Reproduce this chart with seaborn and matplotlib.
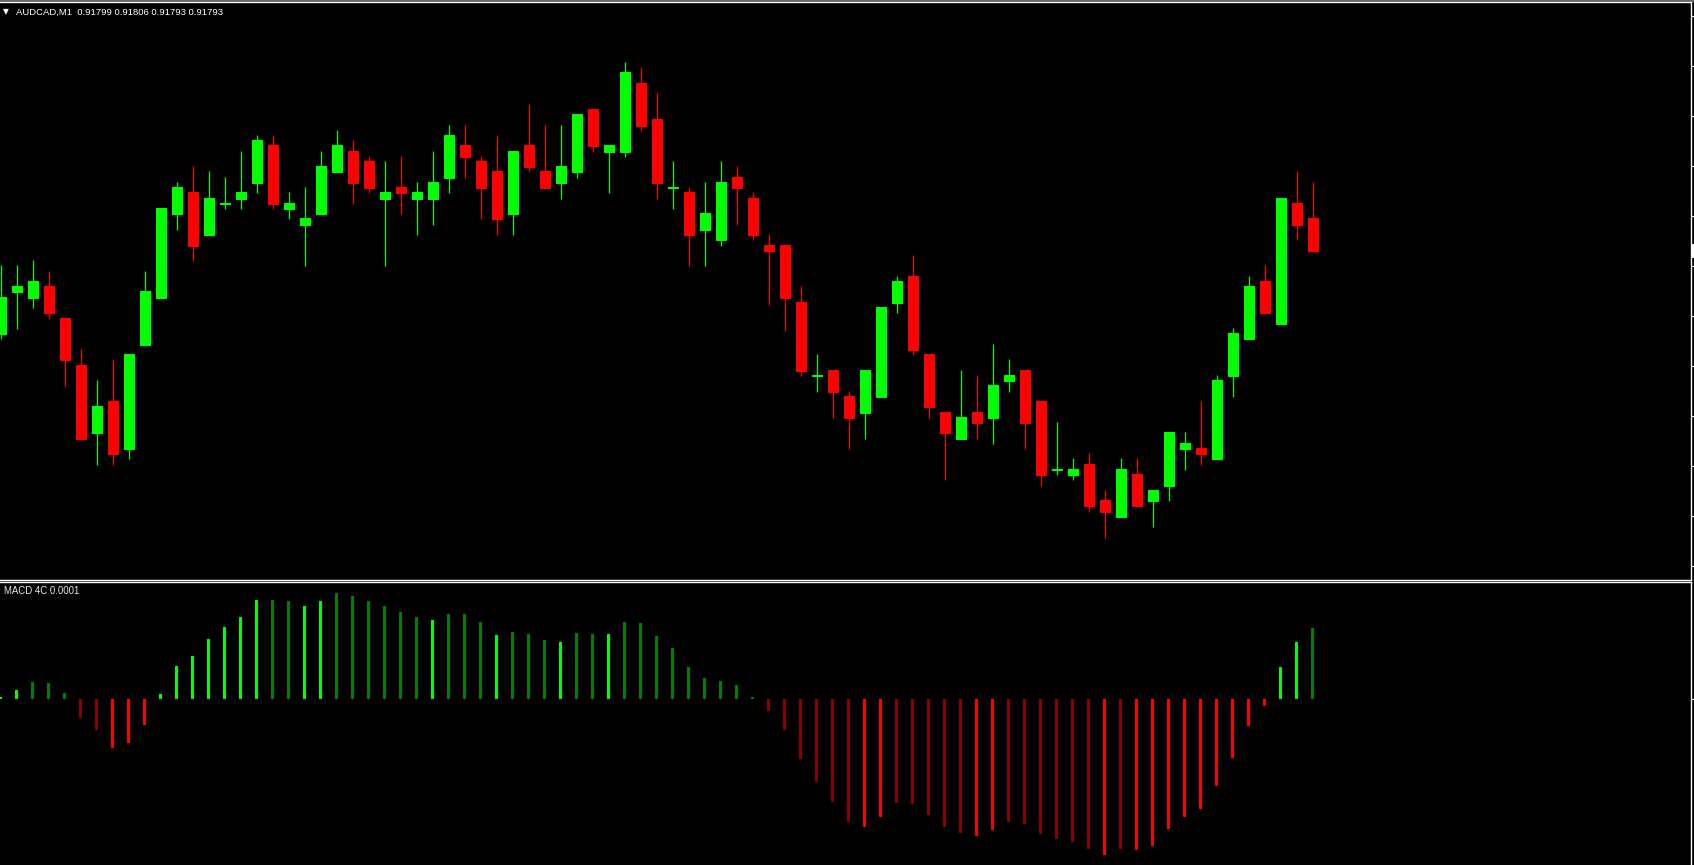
import matplotlib.pyplot as plt
from matplotlib.lines import Line2D
from matplotlib.patches import Rectangle
from matplotlib.ticker import MultipleLocator
import matplotlib.transforms as mtrans
import pandas as pd
import seaborn as sns

# AUDCAD M1 candles
opens = [0.917764, 0.917848, 0.917836, 0.917860, 0.917796, 0.917702, 0.917566, 0.917630, 0.917534, 0.917742,
         0.917836, 0.918004, 0.918048, 0.917962, 0.918025, 0.918034, 0.918066, 0.918142, 0.918014, 0.917982,
         0.918004, 0.918088, 0.918130, 0.918110, 0.918034, 0.918058, 0.918034, 0.918034, 0.918076, 0.918142,
         0.918110, 0.918090, 0.918004, 0.918142, 0.918090, 0.918066, 0.918088, 0.918214, 0.918128, 0.918128,
         0.918266, 0.918194, 0.918057, 0.918048, 0.917972, 0.917952, 0.918078, 0.918036, 0.917942, 0.917942,
         0.917828, 0.917681, 0.917692, 0.917640, 0.917606, 0.917638, 0.917826, 0.917880, 0.917724, 0.917608,
         0.917554, 0.917608, 0.917596, 0.917670, 0.917692, 0.917630, 0.917493, 0.917482, 0.917504, 0.917432,
         0.917398, 0.917484, 0.917430, 0.917460, 0.917534, 0.917536, 0.917514, 0.917680, 0.917754, 0.917870,
         0.917784, 0.918026, 0.917996]
highs = [0.917902, 0.917902, 0.917912, 0.917890, 0.917796, 0.917734, 0.917672, 0.917714, 0.917724, 0.917890,
         0.918016, 0.918068, 0.918100, 0.918090, 0.918078, 0.918130, 0.918162, 0.918162, 0.918048, 0.918058,
         0.918130, 0.918172, 0.918152, 0.918120, 0.918110, 0.918120, 0.918068, 0.918130, 0.918182, 0.918182,
         0.918120, 0.918162, 0.918130, 0.918224, 0.918182, 0.918182, 0.918204, 0.918214, 0.918142, 0.918308,
         0.918298, 0.918246, 0.918110, 0.918058, 0.918068, 0.918110, 0.918100, 0.918048, 0.917964, 0.917942,
         0.917860, 0.917724, 0.917692, 0.917650, 0.917692, 0.917818, 0.917880, 0.917922, 0.917724, 0.917608,
         0.917692, 0.917682, 0.917744, 0.917714, 0.917692, 0.917630, 0.917588, 0.917516, 0.917526, 0.917452,
         0.917516, 0.917516, 0.917452, 0.917568, 0.917568, 0.917630, 0.917682, 0.917776, 0.917880, 0.917902,
         0.918036, 0.918090, 0.918068]
lows = [0.917754, 0.917774, 0.917816, 0.917794, 0.917660, 0.917554, 0.917502, 0.917502, 0.917514, 0.917742,
        0.917836, 0.917972, 0.917910, 0.917962, 0.918014, 0.918014, 0.918046, 0.918014, 0.917994, 0.917900,
        0.918004, 0.918088, 0.918024, 0.918046, 0.917900, 0.918004, 0.917962, 0.917982, 0.918046, 0.918076,
        0.917994, 0.917962, 0.917962, 0.918088, 0.918056, 0.918034, 0.918076, 0.918128, 0.918046, 0.918118,
        0.918170, 0.918034, 0.918014, 0.917900, 0.917900, 0.917940, 0.917982, 0.917952, 0.917822, 0.917770,
        0.917680, 0.917648, 0.917596, 0.917534, 0.917554, 0.917638, 0.917806, 0.917722, 0.917596, 0.917472,
        0.917554, 0.917554, 0.917544, 0.917648, 0.917534, 0.917460, 0.917482, 0.917472, 0.917408, 0.917356,
        0.917398, 0.917420, 0.917378, 0.917430, 0.917492, 0.917502, 0.917514, 0.917638, 0.917754, 0.917806,
        0.917784, 0.917952, 0.917930]
closes = [0.917838, 0.917860, 0.917870, 0.917806, 0.917712, 0.917554, 0.917620, 0.917524, 0.917724, 0.917850,
          0.918016, 0.918058, 0.917940, 0.918036, 0.918026, 0.918048, 0.918152, 0.918024, 0.918026, 0.917996,
          0.918100, 0.918142, 0.918066, 0.918056, 0.918048, 0.918046, 0.918048, 0.918068, 0.918162, 0.918118,
          0.918056, 0.917994, 0.918130, 0.918098, 0.918056, 0.918100, 0.918204, 0.918140, 0.918142, 0.918288,
          0.918180, 0.918066, 0.918058, 0.917962, 0.918006, 0.918068, 0.918056, 0.917962, 0.917930, 0.917836,
          0.917690, 0.917682, 0.917648, 0.917596, 0.917692, 0.917818, 0.917870, 0.917732, 0.917618, 0.917566,
          0.917598, 0.917586, 0.917662, 0.917682, 0.917586, 0.917482, 0.917494, 0.917494, 0.917420, 0.917408,
          0.917494, 0.917420, 0.917452, 0.917568, 0.917546, 0.917524, 0.917672, 0.917766, 0.917860, 0.917806,
          0.918036, 0.917982, 0.917930]

# MACD 4C histogram, in units of 1e-6
macd_e6 = [2, 9, 17, 16, 6, -19, -31, -49, -44, -26,
           5, 33, 43, 60, 72, 82, 99, 99, 98, 93,
           98, 106, 103, 98, 93, 87, 82, 79, 85, 85,
           77, 64, 67, 65, 59, 57, 66, 65, 65, 77,
           76, 63, 51, 32, 21, 18, 14, 2, -12, -31,
           -60, -83, -103, -123, -128, -118, -104, -105, -116, -128,
           -134, -137, -131, -123, -125, -135, -140, -143, -150, -156,
           -150, -151, -147, -130, -118, -110, -87, -59, -27, -7,
           32, 57, 71]
macd_col = (['lime', 'lime', 'green', 'green', 'green', 'maroon', 'maroon', 'red', 'red', 'red']
            + ['lime'] * 7 + ['green', 'green', 'lime', 'lime'] + ['green'] * 6
            + ['lime', 'green', 'green', 'green', 'lime', 'green', 'green', 'green', 'lime',
               'green', 'green', 'lime'] + ['green'] * 9 + ['maroon'] * 6
            + ['red', 'red'] + ['maroon'] * 5 + ['red', 'red'] + ['maroon'] * 6
            + ['red', 'maroon'] + ['red'] * 9 + ['lime', 'lime', 'green'])

header = "AUDCAD,M1  0.91799 0.91806 0.91793 0.91793"
ind_label = "MACD 4C 0.0001"

df = pd.DataFrame({'o': opens, 'h': highs, 'l': lows, 'c': closes})
df['idx'] = range(len(df))
df['col'] = ['#00ff00' if c >= o else '#ff0000' for o, c in zip(df.o, df.c)]
hist = pd.DataFrame({'idx': range(len(macd_e6)),
                     'macd': [v * 1e-6 for v in macd_e6],
                     'col': macd_col})

sns.set_theme(style='dark', rc={'axes.facecolor': 'black', 'figure.facecolor': 'black',
                                'axes.grid': False, 'axes.edgecolor': 'white'})
plt.rcParams['font.family'] = ['Liberation Sans', 'DejaVu Sans']

W, H = 1694, 865
fig = plt.figure(figsize=(W / 100, H / 100), dpi=100)
ax1 = fig.add_axes([0, 1 - 579.5 / H, 1691 / W, 577 / H])
ax2 = fig.add_axes([0, 0, 1691 / W, 1 - 581.5 / H])

# candles
ax1.vlines(df.idx, df.l, df.h, colors=df.col, lw=0.9)
ax1.bar(df.idx, df.c - df.o, bottom=df.o, width=10 / 16, color=df.col,
        edgecolor=df.col, linewidth=0.75)

# histogram
pal = {'lime': '#00ff00', 'green': '#008000', 'red': '#ff0000', 'maroon': '#8b0000'}
sns.barplot(data=hist, x='idx', y='macd', hue='col', palette=pal, native_scale=True,
            dodge=False, width=3 / 16, saturation=1, errorbar=None, legend=False,
            linewidth=0, ax=ax2)

x0, x1 = -0.5 / 16, 1690.5 / 16
for ax in (ax1, ax2):
    ax.set_xlim(x0, x1)
    ax.set_xlabel('')
    ax.set_ylabel('')
    ax.set_xticks([])
    ax.spines['left'].set_visible(False)
    for s in ('top', 'right', 'bottom'):
        ax.spines[s].set_color('white')
        ax.spines[s].set_linewidth(1)
    ax.tick_params(axis='y', left=False, right=True, labelleft=False, labelright=False,
                   direction='out', length=3, width=0.8, color='white')

ax1.set_ylim(0.917273, 0.918427)
ax1.yaxis.set_major_locator(MultipleLocator(0.0001))
ax2.set_ylim(-166e-6, 117.5e-6)
ax2.set_yticks([0])
ax2.spines['bottom'].set_visible(False)

# bid price marker on the (cut off) price scale
tr = mtrans.blended_transform_factory(ax1.transAxes, ax1.transData)
ax1.add_patch(Rectangle((1.0006, closes[-1] - 14e-6), 0.003, 28e-6, transform=tr,
                        facecolor='white', edgecolor='none', clip_on=False))

fig.add_artist(Line2D([0, 1], [1 - 0.6 / H] * 2, color='#808080', lw=1.2))
fig.text(2.5 / W, 1 - 14.5 / H, '\u25bc', fontsize=5.5, color='white', va='baseline',
         family='DejaVu Sans')
fig.text(15.5 / W, 1 - 15.3 / H, header, fontsize=6.8, color='white', va='baseline')
fig.text(4 / W, 1 - 594 / H, ind_label, fontsize=6.9, color='#e8e8e8', va='baseline')

fig.savefig('out.png', dpi=100, facecolor='black')
